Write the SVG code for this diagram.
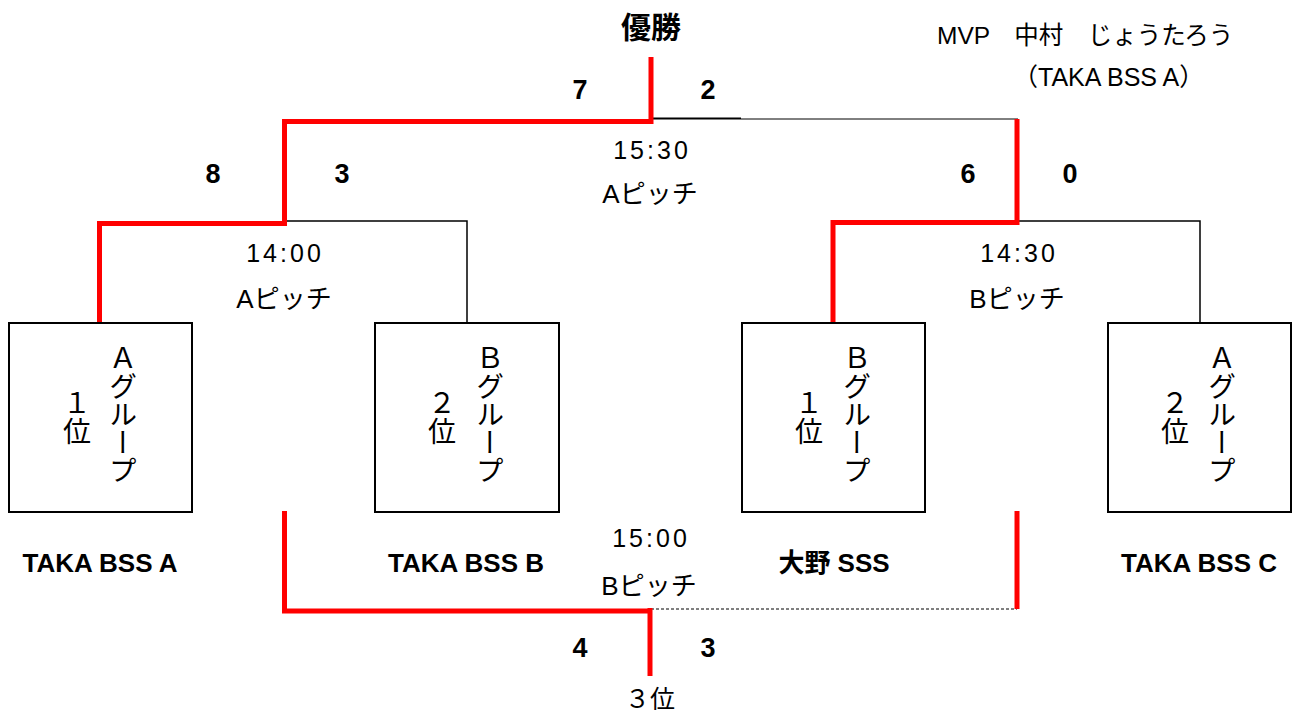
<svg xmlns="http://www.w3.org/2000/svg" width="1293" height="715" viewBox="0 0 1293 715">
<style>
.t{font-family:"Liberation Sans","Noto Sans CJK JP",sans-serif;fill:#000}
.jp{font-family:"Noto Sans CJK JP","Liberation Sans",sans-serif;fill:#000}
.c{text-anchor:middle}
.score{font-size:27px;font-weight:bold}
.time{font-size:25px;letter-spacing:3px}
.pitch{font-size:26px}
.team{font-size:26px;font-weight:bold}
.box{fill:#fff;stroke:#000;stroke-width:2}
.v{font-size:28px;writing-mode:vertical-rl;text-orientation:upright}
.red{fill:none;stroke:#f00;stroke-width:5}
.blk{fill:none;stroke:#000;stroke-width:1.5}
</style>
<rect width="1293" height="715" fill="#fff"/>
<g id="connectors">
  <polyline class="blk" points="284,221 467,221 467,322"/>
  <polyline class="blk" points="1017,221 1200,221 1200,322"/>
  <line x1="651" y1="118.5" x2="741" y2="118.5" stroke="#000" stroke-width="2"/>
  <line x1="741" y1="119" x2="1018" y2="119" stroke="#000" stroke-width="1"/>
  <line x1="651" y1="609" x2="1017" y2="609" stroke="#000" stroke-width="1" stroke-dasharray="3,2"/>
  <polyline class="red" points="651,57 651,121.5 284.5,121.5 284.5,223.5 99.5,223.5 99.5,322"/>
  <polyline class="red" points="1017,119 1017,222.5 833,222.5 833,322"/>
  <polyline class="red" points="284.5,511 284.5,611 651,611"/>
  <line class="red" x1="650" y1="608" x2="650" y2="676"/>
  <line class="red" x1="1017" y1="511" x2="1017" y2="609"/>
</g>
<g id="title">
  <text class="jp c" x="651" y="38" font-size="30" font-weight="bold">優勝</text>
</g>
<g id="mvp">
  <text class="t" x="937" y="44" font-size="24.5">MVP　中村　じょうたろう</text>
  <text class="t" x="1013" y="86" font-size="25">（TAKA BSS A）</text>
</g>
<g id="final">
  <text class="t c score" x="580" y="99">7</text>
  <text class="t c score" x="708" y="99">2</text>
  <text class="t c time" x="652" y="159">15:30</text>
  <text class="t c pitch" x="650" y="203">Aピッチ</text>
</g>
<g id="semi1">
  <text class="t c score" x="213" y="183">8</text>
  <text class="t c score" x="342" y="183">3</text>
  <text class="t c time" x="285" y="262">14:00</text>
  <text class="t c pitch" x="284" y="308">Aピッチ</text>
</g>
<g id="semi2">
  <text class="t c score" x="968" y="183">6</text>
  <text class="t c score" x="1070" y="183">0</text>
  <text class="t c time" x="1019" y="262">14:30</text>
  <text class="t c pitch" x="1017" y="308">Bピッチ</text>
</g>
<g id="third">
  <text class="t c time" x="651" y="547">15:00</text>
  <text class="t c pitch" x="649" y="595">Bピッチ</text>
  <text class="t c score" x="580" y="657">4</text>
  <text class="t c score" x="708" y="657">3</text>
  <text class="jp c" x="650" y="708" font-size="25">３位</text>
</g>
<g id="box-a1">
  <rect class="box" x="9" y="323" width="183" height="189"/>
  <text class="jp v" x="123" y="344">Ａグループ</text>
  <text class="jp v" x="77" y="389">１位</text>
  <text class="t c team" x="100" y="572">TAKA BSS A</text>
</g>
<g id="box-b2">
  <rect class="box" x="375" y="323" width="184" height="189"/>
  <text class="jp v" x="490" y="344">Ｂグループ</text>
  <text class="jp v" x="442" y="389">２位</text>
  <text class="t c team" x="466" y="572">TAKA BSS B</text>
</g>
<g id="box-b1">
  <rect class="box" x="742" y="323" width="183" height="189"/>
  <text class="jp v" x="857" y="344">Ｂグループ</text>
  <text class="jp v" x="809" y="389">１位</text>
  <text class="t c team" x="834" y="572">大野 SSS</text>
</g>
<g id="box-a2">
  <rect class="box" x="1108" y="323" width="183" height="189"/>
  <text class="jp v" x="1222" y="344">Ａグループ</text>
  <text class="jp v" x="1175" y="389">２位</text>
  <text class="t c team" x="1199" y="572">TAKA BSS C</text>
</g>
</svg>
